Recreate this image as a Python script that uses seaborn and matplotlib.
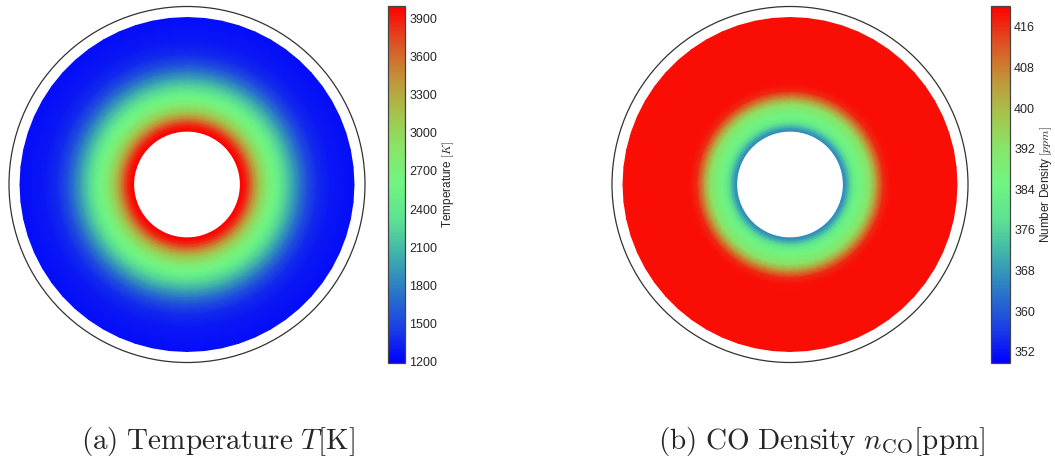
import numpy as np
import matplotlib
matplotlib.use("Agg")
import matplotlib.pyplot as plt
import matplotlib.tri as mtri
from matplotlib.patches import Circle
from matplotlib.colors import Normalize
from matplotlib.cm import ScalarMappable
import seaborn as sns

# Radial stations of the annular mesh (mm)
radius_mm = [16, 17, 18, 19, 20, 21, 22, 24, 26, 28, 30, 32, 34, 36, 39, 43, 50]
# Temperature at each station (K)
temperature_K = [3990, 3930, 3820, 3650, 3450, 3250, 3080, 2800, 2600, 2400,
                 2180, 1950, 1730, 1550, 1380, 1290, 1250]
# CO number density at each station (ppm)
co_ppm = [366, 370, 376, 381, 384, 386, 388, 393, 406, 416,
          418.5, 419, 419, 419, 419, 419, 419]

wall_radius_mm = 53.3
n_theta = 60

temp_ticks = [1200, 1500, 1800, 2100, 2400, 2700, 3000, 3300, 3600, 3900]
temp_range = (1190, 3995)
co_ticks = [352, 360, 368, 376, 384, 392, 400, 408, 416]
co_range = (349.8, 420.1)

sns.set_style("white")
plt.rcParams["font.family"] = ["Liberation Sans", "DejaVu Sans"]
plt.rcParams["mathtext.fontset"] = "cm"

cmap = sns.blend_palette(
    ["#0000ff", "#1c41e4", "#2a78c8", "#3eafac", "#5ce194", "#70f582",
     "#87e669", "#a5c34b", "#c39137", "#de5023", "#ff0000"], as_cmap=True)

# Build a triangulated annulus from the radial stations
r = np.asarray(radius_mm, dtype=float)
th = np.linspace(0, 2 * np.pi, n_theta, endpoint=False)
R, TH = np.meshgrid(r, th, indexing="ij")
xs = (R * np.cos(TH)).ravel()
ys = (R * np.sin(TH)).ravel()
tris = []
nr = len(r)
for i in range(nr - 1):
    for j in range(n_theta):
        a = i * n_theta + j
        b = i * n_theta + (j + 1) % n_theta
        c = (i + 1) * n_theta + j
        d = (i + 1) * n_theta + (j + 1) % n_theta
        tris.append([a, b, d])
        tris.append([a, d, c])
tri = mtri.Triangulation(xs, ys, np.array(tris))

W, H = 1055, 457
fig = plt.figure(figsize=(W / 100, H / 100), dpi=100)

half = wall_radius_mm * 180 / 178


def panel(cx, field, rng, ticks, cb_left, cb_width, cb_label):
    ax = fig.add_axes([(cx - 180) / W, (H - 184.5 - 180) / H, 360 / W, 360 / H])
    vals = np.repeat(np.asarray(field, dtype=float), n_theta)
    norm = Normalize(*rng)
    ax.tripcolor(tri, vals, cmap=cmap, norm=norm, shading="gouraud")
    ax.add_patch(Circle((0, 0), wall_radius_mm, fill=False, ec="#333333", lw=0.9))
    ax.set_xlim(-half, half)
    ax.set_ylim(-half, half)
    ax.set_aspect("equal")
    ax.axis("off")

    cax = fig.add_axes([cb_left / W, (H - 363) / H, cb_width / W, 357 / H])
    cb = fig.colorbar(ScalarMappable(norm=norm, cmap=cmap), cax=cax, ticks=ticks)
    cb.outline.set_edgecolor("#444444")
    cb.outline.set_linewidth(0.9)
    cax.tick_params(direction="in", length=4, width=0.8, color="#333333",
                    labelsize=9, pad=3, right=True, left=False)
    cb.set_label(cb_label, fontsize=8.5, labelpad=2)


panel(187, temperature_K, temp_range, temp_ticks, 388, 17, r"Temperature $[K]$")
panel(790, co_ppm, co_range, co_ticks, 991, 19, r"Number Density $[ppm]$")

fig.text(218 / W, 1 - 441 / H, r"$\mathrm{(a)\ Temperature\ }T\mathrm{[K]}$",
         ha="center", va="center", fontsize=21)
fig.text(822 / W, 1 - 441 / H, r"$\mathrm{(b)\ CO\ Density\ }n_{\mathrm{CO}}\mathrm{[ppm]}$",
         ha="center", va="center", fontsize=21)

fig.savefig("out.png", dpi=100)
